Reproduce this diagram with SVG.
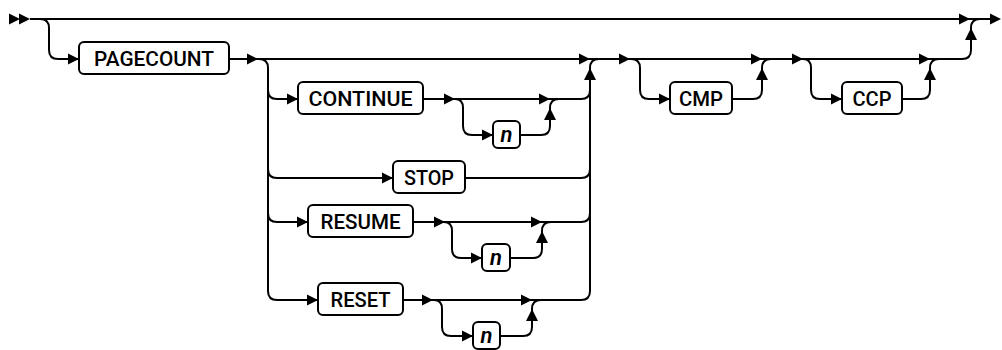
<svg xmlns="http://www.w3.org/2000/svg" width="1002" height="350" viewBox="0 0 1002 350">
<style>
.ln{fill:none;stroke:#000;stroke-width:2}
.bx{fill:#fff;stroke:#000;stroke-width:2}
.t{font-family:Roboto,"Liberation Sans",sans-serif;font-weight:500;font-size:21px;fill:#000;text-anchor:middle}
.v{font-family:Roboto,"Liberation Sans",sans-serif;font-weight:600;font-style:italic;font-size:22px;fill:#000;text-anchor:middle}
</style>
<defs>
<polygon id="ar" points="-11,-5.5 0,0 -11,5.5"/>
<polygon id="au" points="-6,12 0,0 6,12"/>
</defs>
<g id="connectors">
<path class="ln" d="M30 19 H990"/>
<path class="ln" d="M40 19 Q49 19 49 28 V50 Q49 59 58 59 H79"/>
<path class="ln" d="M229 59 H962 Q971 59 971 50 V28 Q971 19 980 19"/>
<path class="ln" d="M259 59 Q268 59 268 68 V291 Q268 300 277 300 H318"/>
<path class="ln" d="M268 90 Q268 99 277 99 H298"/>
<path class="ln" d="M268 169 Q268 178 277 178 H393"/>
<path class="ln" d="M268 213 Q268 222 277 222 H308"/>
<path class="ln" d="M581 300 Q590 300 590 291 V68 Q590 59 599 59"/>
<path class="ln" d="M423 99 H581 Q590 99 590 90"/>
<path class="ln" d="M465 178 H581 Q590 178 590 169"/>
<path class="ln" d="M413 222 H581 Q590 222 590 213"/>
<path class="ln" d="M403 300 H581"/>
<path class="ln" d="M455 99 Q463 99 463 108 V126 Q463 135 472 135 H493"/>
<path class="ln" d="M520 135 H541 Q550 135 550 126 V108 Q550 99 559 99"/>
<path class="ln" d="M444 222 Q452 222 452 231 V249 Q452 258 461 258 H482"/>
<path class="ln" d="M510 258 H533 Q542 258 542 249 V231 Q542 222 551 222"/>
<path class="ln" d="M434 300 Q442 300 442 309 V327 Q442 336 451 336 H473"/>
<path class="ln" d="M500 336 H523 Q532 336 532 327 V309 Q532 300 541 300"/>
<path class="ln" d="M631 59 Q640 59 640 68 V90 Q640 99 649 99 H670"/>
<path class="ln" d="M732 99 H753 Q762 99 762 90 V68 Q762 59 771 59"/>
<path class="ln" d="M803 59 Q811 59 811 68 V90 Q811 99 820 99 H842"/>
<path class="ln" d="M902 99 H921 Q930 99 930 90 V68 Q930 59 939 59"/>
<use href="#ar" x="20" y="19"/><use href="#ar" x="30" y="19"/>
<use href="#ar" x="970" y="19"/><use href="#ar" x="1001" y="19"/>
<use href="#ar" x="79" y="59"/><use href="#ar" x="258" y="59"/>
<use href="#ar" x="590" y="59"/><use href="#ar" x="630" y="59"/>
<use href="#ar" x="762" y="59"/><use href="#ar" x="803" y="59"/>
<use href="#ar" x="930" y="59"/>
<use href="#ar" x="298" y="99"/><use href="#ar" x="455" y="99"/>
<use href="#ar" x="550" y="99"/><use href="#ar" x="493" y="135"/>
<use href="#ar" x="393" y="178"/>
<use href="#ar" x="308" y="222"/><use href="#ar" x="445" y="222"/>
<use href="#ar" x="542" y="222"/><use href="#ar" x="482" y="258"/>
<use href="#ar" x="318" y="300"/><use href="#ar" x="433" y="300"/>
<use href="#ar" x="532" y="300"/><use href="#ar" x="473" y="336"/>
<use href="#ar" x="670" y="99"/><use href="#ar" x="842" y="99"/>
<use href="#au" x="590" y="68"/><use href="#au" x="550" y="108"/>
<use href="#au" x="542" y="231"/><use href="#au" x="532" y="309"/>
<use href="#au" x="762" y="68"/><use href="#au" x="930" y="68"/>
<use href="#au" x="971" y="28"/>
</g>
<g id="pagecount"><rect class="bx" x="79" y="42" width="150" height="32" rx="5"/><text class="t" x="154" y="65.5" textLength="120" lengthAdjust="spacingAndGlyphs">PAGECOUNT</text></g>
<g id="continue"><rect class="bx" x="298" y="82" width="125" height="32" rx="5"/><text class="t" x="360.5" y="105.5" textLength="104" lengthAdjust="spacingAndGlyphs">CONTINUE</text></g>
<g id="continue-n"><rect class="bx" x="493" y="121" width="27" height="27" rx="5"/><text class="v" x="506.5" y="142">n</text></g>
<g id="stop"><rect class="bx" x="393" y="161" width="72" height="32" rx="5"/><text class="t" x="429" y="184.5" textLength="50" lengthAdjust="spacingAndGlyphs">STOP</text></g>
<g id="resume"><rect class="bx" x="308" y="205" width="105" height="32" rx="5"/><text class="t" x="360.5" y="228.5" textLength="80" lengthAdjust="spacingAndGlyphs">RESUME</text></g>
<g id="resume-n"><rect class="bx" x="482" y="244" width="28" height="27" rx="5"/><text class="v" x="496" y="265">n</text></g>
<g id="reset"><rect class="bx" x="318" y="283" width="85" height="32" rx="5"/><text class="t" x="360.5" y="306.5" textLength="60" lengthAdjust="spacingAndGlyphs">RESET</text></g>
<g id="reset-n"><rect class="bx" x="473" y="322" width="27" height="27" rx="5"/><text class="v" x="486.5" y="343">n</text></g>
<g id="cmp"><rect class="bx" x="670" y="82" width="62" height="32" rx="5"/><text class="t" x="701" y="105.5" textLength="44" lengthAdjust="spacingAndGlyphs">CMP</text></g>
<g id="ccp"><rect class="bx" x="842" y="82" width="60" height="32" rx="5"/><text class="t" x="872" y="105.5" textLength="39" lengthAdjust="spacingAndGlyphs">CCP</text></g>
</svg>
